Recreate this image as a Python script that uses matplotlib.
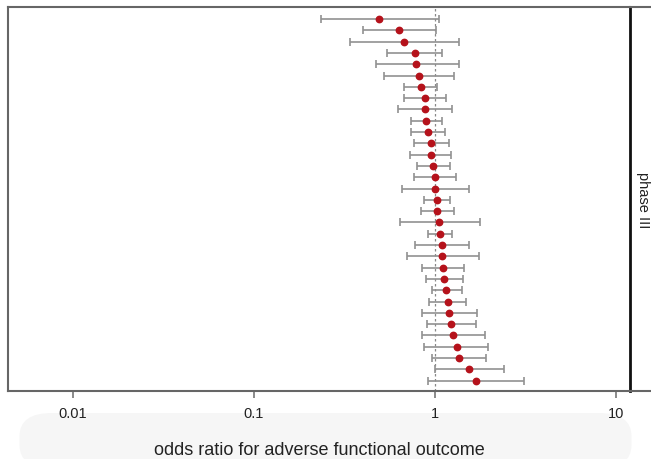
import numpy as np
import matplotlib
matplotlib.use("Agg")
import matplotlib.pyplot as plt
from matplotlib.patches import FancyBboxPatch

plt.rcParams['font.family'] = ['Liberation Sans', 'DejaVu Sans']

# odds ratios with 95% CI, listed top to bottom
odds = [0.492, 0.633, 0.672, 0.775, 0.788, 0.816, 0.834, 0.877, 0.877, 0.892,
        0.911, 0.947, 0.947, 0.979, 0.996, 0.996, 1.030, 1.030, 1.048, 1.070,
        1.089, 1.089, 1.111, 1.125, 1.150, 1.175, 1.195, 1.230, 1.257, 1.330,
        1.350, 1.540, 1.690]
ci_lo = [0.234, 0.399, 0.339, 0.543, 0.472, 0.523, 0.677, 0.674, 0.627, 0.734,
         0.734, 0.763, 0.730, 0.792, 0.766, 0.660, 0.873, 0.834, 0.641, 0.911,
         0.778, 0.698, 0.851, 0.892, 0.966, 0.927, 0.851, 0.903, 0.851, 0.869,
         0.966, 1.000, 0.911]
ci_hi = [1.052, 1.013, 1.362, 1.097, 1.362, 1.278, 1.030, 1.154, 1.241, 1.089,
         1.136, 1.199, 1.230, 1.210, 1.306, 1.535, 1.215, 1.278, 1.773, 1.236,
         1.535, 1.750, 1.452, 1.434, 1.410, 1.477, 1.713, 1.684, 1.896, 1.970,
         1.910, 2.410, 3.090]
xticks = [0.01, 0.1, 1, 10]
xticklabels = ["0.01", "0.1", "1", "10"]
panel = "phase III"

odds = np.array(odds)
lo = np.array(ci_lo)
hi = np.array(ci_hi)
n = len(odds)
ypos = np.arange(n, 0, -1)

fig = plt.figure(figsize=(6.51, 4.60), dpi=100)

# faint grey backdrop behind the axis title
bg = FancyBboxPatch((0.03, -0.02), 0.94, 0.12, boxstyle="round,pad=0,rounding_size=0.05",
                    transform=fig.transFigure, facecolor="#f6f6f6", edgecolor="none", zorder=-1)
fig.patches.append(bg)

ax = fig.add_axes([8/651, 68/460, 622/651, 384/460])
ax.axvline(1, color="#888888", lw=0.9, ls=(0, (2, 2)), zorder=1)
ax.errorbar(odds, ypos, xerr=[odds - lo, hi - odds], fmt="none",
            ecolor="#919191", elinewidth=1.2, capsize=3.2, capthick=1.2, zorder=2)
ax.plot(odds, ypos, "o", color="#b5121b", ms=4.6, zorder=3)

ax.set_xscale("log")
ax.set_xlim(0.00437, 11.95)
ax.set_ylim(0.09, 34.06)
ax.set_yticks([])
ax.set_xticks(xticks)
ax.set_xticklabels(xticklabels)
ax.minorticks_off()
ax.tick_params(axis="x", length=5, width=1.2, color="#777777", pad=6,
               labelsize=10.5, labelcolor="#222222")
for s in ["left", "top", "bottom"]:
    ax.spines[s].set_color("#666666")
    ax.spines[s].set_linewidth(1.5)
ax.spines["right"].set_color("#111111")
ax.spines["right"].set_linewidth(2)
ax.set_xlabel("odds ratio for adverse functional outcome", fontsize=13,
              color="#222222", labelpad=15)

# facet strip on the right
strip = fig.add_axes([630/651, 68/460, 40/651, 384/460])
strip.set_xticks([])
strip.set_yticks([])
strip.patch.set_alpha(0)
for s in ["left", "right"]:
    strip.spines[s].set_visible(False)
for s in ["top", "bottom"]:
    strip.spines[s].set_color("#666666")
    strip.spines[s].set_linewidth(1.5)
fig.text(643/651, 1 - 200/460, panel, rotation=-90, ha="center", va="center",
         fontsize=10.5, color="#222222")

fig.savefig("out.png", dpi=100)
